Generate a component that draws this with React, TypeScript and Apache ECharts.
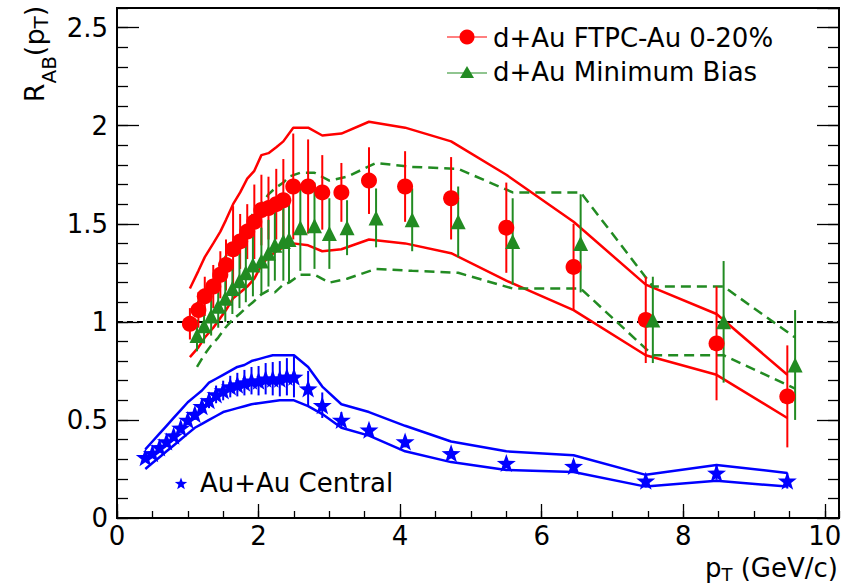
import React, { useEffect, useRef } from "react";
import * as echarts from "echarts";

const FONT = "DejaVu Sans";

// d+Au FTPC-Au 0-20%
const ftpcPt = [1.03, 1.15, 1.24, 1.36, 1.46, 1.54, 1.64, 1.74, 1.84, 1.94, 2.04, 2.14, 2.25, 2.35, 2.49, 2.70, 2.90, 3.17, 3.56, 4.07, 4.72, 5.50, 6.45, 7.47, 8.47, 9.47];
const ftpcR = [0.99, 1.06, 1.13, 1.18, 1.24, 1.29, 1.37, 1.41, 1.46, 1.51, 1.57, 1.58, 1.60, 1.62, 1.69, 1.69, 1.66, 1.66, 1.72, 1.69, 1.63, 1.48, 1.28, 1.01, 0.89, 0.62];
const ftpcErr = [0.08, 0.09, 0.10, 0.11, 0.12, 0.13, 0.22, 0.14, 0.14, 0.19, 0.18, 0.16, 0.18, 0.21, 0.27, 0.24, 0.19, 0.15, 0.17, 0.18, 0.21, 0.23, 0.22, 0.22, 0.29, 0.26];
const ftpcSysHi = [1.17, 1.26, 1.33, 1.40, 1.46, 1.52, 1.60, 1.66, 1.73, 1.77, 1.85, 1.86, 1.89, 1.92, 1.99, 1.99, 1.95, 1.96, 2.02, 1.99, 1.92, 1.75, 1.51, 1.19, 1.04, 0.73];
const ftpcSysLo = [0.82, 0.87, 0.92, 0.97, 1.02, 1.06, 1.12, 1.15, 1.18, 1.22, 1.29, 1.33, 1.36, 1.38, 1.40, 1.39, 1.36, 1.37, 1.42, 1.40, 1.35, 1.21, 1.06, 0.83, 0.73, 0.51];

// d+Au Minimum Bias
const mbPt = [1.13, 1.23, 1.33, 1.43, 1.53, 1.63, 1.73, 1.82, 1.92, 2.04, 2.14, 2.23, 2.35, 2.43, 2.59, 2.79, 3.00, 3.25, 3.66, 4.17, 4.82, 5.59, 6.55, 7.57, 8.57, 9.58];
const mbR = [0.93, 0.98, 1.03, 1.08, 1.12, 1.17, 1.21, 1.25, 1.29, 1.31, 1.35, 1.39, 1.41, 1.42, 1.48, 1.49, 1.45, 1.48, 1.53, 1.52, 1.51, 1.41, 1.40, 1.01, 1.00, 0.78];
const mbErr = [0.08, 0.09, 0.10, 0.11, 0.12, 0.13, 0.14, 0.15, 0.16, 0.17, 0.17, 0.18, 0.20, 0.22, 0.22, 0.22, 0.18, 0.14, 0.15, 0.16, 0.18, 0.22, 0.25, 0.22, 0.31, 0.28];
const mbSysHi = [1.09, 1.15, 1.21, 1.27, 1.33, 1.39, 1.44, 1.49, 1.55, 1.60, 1.65, 1.68, 1.71, 1.74, 1.76, 1.76, 1.72, 1.74, 1.81, 1.79, 1.78, 1.66, 1.66, 1.18, 1.18, 0.92];
const mbSysLo = [0.77, 0.83, 0.88, 0.92, 0.97, 1.01, 1.04, 1.07, 1.10, 1.14, 1.16, 1.15, 1.19, 1.20, 1.24, 1.24, 1.20, 1.22, 1.27, 1.26, 1.25, 1.17, 1.17, 0.83, 0.83, 0.66];

// Au+Au Central
const aaPt = [0.4, 0.5, 0.6, 0.7, 0.8, 0.9, 1.0, 1.1, 1.2, 1.3, 1.4, 1.5, 1.6, 1.7, 1.8, 1.9, 2.0, 2.1, 2.2, 2.3, 2.4, 2.5, 2.70, 2.90, 3.17, 3.56, 4.07, 4.72, 5.50, 6.45, 7.47, 8.47, 9.47];
const aaR = [0.31, 0.33, 0.36, 0.39, 0.42, 0.46, 0.50, 0.53, 0.57, 0.60, 0.63, 0.65, 0.67, 0.68, 0.69, 0.70, 0.70, 0.71, 0.71, 0.71, 0.72, 0.72, 0.66, 0.575, 0.50, 0.45, 0.39, 0.33, 0.28, 0.265, 0.19, 0.23, 0.19];
const aaErr = [0.01, 0.012, 0.014, 0.016, 0.018, 0.02, 0.025, 0.03, 0.035, 0.04, 0.045, 0.05, 0.055, 0.06, 0.065, 0.07, 0.075, 0.08, 0.085, 0.09, 0.095, 0.105, 0.09, 0.065, 0.04, 0.03, 0.03, 0.025, 0.025, 0.03, 0.03, 0.035, 0.04];
const aaSysHi = [0.35, 0.39, 0.43, 0.47, 0.51, 0.55, 0.59, 0.62, 0.65, 0.69, 0.71, 0.73, 0.75, 0.77, 0.78, 0.80, 0.81, 0.82, 0.83, 0.83, 0.83, 0.83, 0.77, 0.67, 0.58, 0.54, 0.47, 0.39, 0.34, 0.32, 0.22, 0.27, 0.23];
const aaSysLo = [0.25, 0.28, 0.31, 0.34, 0.37, 0.40, 0.43, 0.46, 0.48, 0.50, 0.52, 0.54, 0.55, 0.56, 0.57, 0.58, 0.585, 0.59, 0.595, 0.60, 0.60, 0.60, 0.57, 0.53, 0.46, 0.42, 0.34, 0.285, 0.245, 0.235, 0.16, 0.19, 0.16];

const unity = 1;
const xMin = 0, xMax = 10.2, xMajor = 2, xMinor = 0.5;
const yMin = 0, yMax = 2.6, yMajor = 0.5, yMinor = 0.1;

const RED = "#ff0000";
const GREEN = "#228b22";
const BLUE = "#0000ff";

const STAR = "path://M0,-10 L2.35,-3.24 L9.51,-3.09 L3.8,1.24 L5.88,8.09 L0,4 L-5.88,8.09 L-3.8,1.24 L-9.51,-3.09 L-2.35,-3.24 Z";

function pairs(xs: number[], ys: number[]) {
  return xs.map((x, i) => [x, ys[i]]);
}

function bandLine(xs: number[], ys: number[], color: string, dashed: boolean) {
  return {
    type: "line",
    data: pairs(xs, ys),
    symbol: "none",
    silent: true,
    z: 2,
    lineStyle: { color, width: 2.5, type: dashed ? [10, 6] : "solid" },
  };
}

function errorBars(xs: number[], ys: number[], es: number[], color: string) {
  return {
    type: "custom",
    silent: true,
    z: 3,
    data: xs.map((x, i) => [x, ys[i] - es[i], ys[i] + es[i]]),
    encode: { x: 0, y: [1, 2] },
    renderItem: (_p: any, api: any) => {
      const a = api.coord([api.value(0), api.value(1)]);
      const b = api.coord([api.value(0), api.value(2)]);
      return {
        type: "line",
        shape: { x1: a[0], y1: a[1], x2: b[0], y2: b[1] },
        style: { stroke: color, lineWidth: 2 },
      };
    },
  };
}

function starPoints(cx: number, cy: number, ro: number, ri: number) {
  const pts: number[][] = [];
  for (let k = 0; k < 10; k++) {
    const r = k % 2 === 0 ? ro : ri;
    const a = -Math.PI / 2 + (k * Math.PI) / 5;
    pts.push([cx + r * Math.cos(a), cy + r * Math.sin(a)]);
  }
  return pts;
}

const labelStyle = { fontSize: 26, fontFamily: FONT, color: "#000", lineHeight: 22 };

function yAxisDef(position: string, interval: number, tickLen: number, labels: boolean) {
  return {
    type: "value",
    position,
    min: yMin,
    max: yMax,
    interval,
    axisLine: { show: false },
    splitLine: { show: false },
    axisTick: { show: true, inside: true, length: tickLen, lineStyle: { color: "#000", width: 1.3 } },
    axisLabel: labels ? { show: true, ...labelStyle, margin: 9, showMaxLabel: false } : { show: false },
  };
}

function xAxisDef(interval: number, tickLen: number, labels: boolean) {
  return {
    type: "value",
    position: "bottom",
    min: xMin,
    max: xMax,
    interval,
    axisLine: { show: false },
    splitLine: { show: false },
    axisTick: { show: true, inside: true, length: tickLen, lineStyle: { color: "#000", width: 1.3 } },
    axisLabel: labels ? { show: true, ...labelStyle, margin: 7, showMaxLabel: false } : { show: false },
  };
}

export default function App() {
  const ref = useRef<HTMLDivElement>(null);
  useEffect(() => {
    const chart = echarts.init(ref.current!, null, { renderer: "svg" });
    const option: any = {
      animation: false,
      backgroundColor: "#fff",
      grid: { left: 117, right: 11, top: 8, bottom: 65, show: true, borderColor: "#000", borderWidth: 2, backgroundColor: "transparent" },
      xAxis: [xAxisDef(xMajor, 14, true), xAxisDef(xMinor, 7, false)],
      yAxis: [
        yAxisDef("left", yMajor, 22, true),
        yAxisDef("left", yMinor, 11, false),
        yAxisDef("right", yMajor, 22, false),
        yAxisDef("right", yMinor, 11, false),
      ],
      series: [
        bandLine(ftpcPt, ftpcSysHi, RED, false),
        bandLine(ftpcPt, ftpcSysLo, RED, false),
        bandLine(mbPt, mbSysHi, GREEN, true),
        bandLine(mbPt, mbSysLo, GREEN, true),
        bandLine(aaPt, aaSysHi, BLUE, false),
        bandLine(aaPt, aaSysLo, BLUE, false),
        errorBars(ftpcPt, ftpcR, ftpcErr, RED),
        errorBars(mbPt, mbR, mbErr, GREEN),
        errorBars(aaPt, aaR, aaErr, BLUE),
        {
          type: "scatter",
          name: "d+Au FTPC-Au 0-20%",
          data: pairs(ftpcPt, ftpcR),
          symbol: "circle",
          symbolSize: 16,
          itemStyle: { color: RED, opacity: 1 },
          z: 5,
          markLine: {
            silent: true,
            symbol: ["none", "none"],
            label: { show: false },
            lineStyle: { color: "#000", type: [6, 4], width: 2, opacity: 1 },
            data: [{ yAxis: unity }],
            z: 1,
          },
        },
        {
          type: "scatter",
          name: "d+Au Minimum Bias",
          data: pairs(mbPt, mbR),
          symbol: "triangle",
          symbolSize: 15,
          itemStyle: { color: GREEN, opacity: 1 },
          z: 5,
        },
        {
          type: "scatter",
          name: "Au+Au Central",
          data: pairs(aaPt, aaR),
          symbol: STAR,
          symbolKeepAspect: true,
          symbolSize: 19,
          itemStyle: { color: BLUE, opacity: 1 },
          z: 5,
        },
      ],
      graphic: [
        // legend top right
        { type: "line", shape: { x1: 447, y1: 37, x2: 487, y2: 37 }, style: { stroke: RED, lineWidth: 1.2 } },
        { type: "circle", shape: { cx: 467, cy: 37, r: 7.5 }, style: { fill: RED } },
        { type: "text", x: 493, y: 38, style: { text: "d+Au FTPC-Au 0-20%", fontSize: 26, fontFamily: FONT, fill: "#000", textAlign: "left", textVerticalAlign: "middle", align: "left", verticalAlign: "middle" } },
        { type: "line", shape: { x1: 447, y1: 73, x2: 487, y2: 73 }, style: { stroke: GREEN, lineWidth: 1.2 } },
        { type: "polygon", shape: { points: [[467, 66], [474, 78], [460, 78]] }, style: { fill: GREEN } },
        { type: "text", x: 493, y: 72, style: { text: "d+Au Minimum Bias", fontSize: 26, fontFamily: FONT, fill: "#000", textAlign: "left", textVerticalAlign: "middle", align: "left", verticalAlign: "middle" } },
        // Au+Au legend
        { type: "polygon", shape: { points: starPoints(181, 484, 6.5, 2.7) }, style: { fill: BLUE } },
        { type: "text", x: 200, y: 483, style: { text: "Au+Au Central", fontSize: 26, fontFamily: FONT, fill: "#000", textAlign: "left", textVerticalAlign: "middle", align: "left", verticalAlign: "middle" } },
        // y axis title
        {
          type: "text",
          x: 34,
          y: 54,
          rotation: Math.PI / 2,
          style: {
            text: "{m|R}{a|AB}{m|(p}{t|T}{m|)}",
            fill: "#000",
            textAlign: "center",
            textVerticalAlign: "middle",
            align: "center",
            verticalAlign: "middle",
            rich: {
              m: { fontSize: 27, fontFamily: FONT, lineHeight: 30, fill: "#000", color: "#000" },
              a: { fontSize: 20, fontFamily: FONT, lineHeight: 30, padding: [30, 0, 0, 0], fill: "#000", color: "#000" },
              t: { fontSize: 20, fontFamily: FONT, lineHeight: 30, padding: [14, 0, 0, 0], fill: "#000", color: "#000" },
            },
          },
        },
        // x axis title
        {
          type: "text",
          x: 838,
          y: 568,
          style: {
            text: "{m|p}{t|T}{m| (GeV/c)}",
            fill: "#000",
            textAlign: "right",
            textVerticalAlign: "middle",
            align: "right",
            verticalAlign: "middle",
            rich: {
              m: { fontSize: 26, fontFamily: FONT, lineHeight: 22, fill: "#000", color: "#000" },
              t: { fontSize: 18, fontFamily: FONT, lineHeight: 22, padding: [12, 0, 0, 0], fill: "#000", color: "#000" },
            },
          },
        },
      ],
    };
    chart.setOption(option);
    return () => chart.dispose();
  }, []);
  return (
    <div
      ref={ref}
      style={{ position: "fixed", left: 0, top: 0, width: 850, height: 583, background: "#fff" }}
    />
  );
}
